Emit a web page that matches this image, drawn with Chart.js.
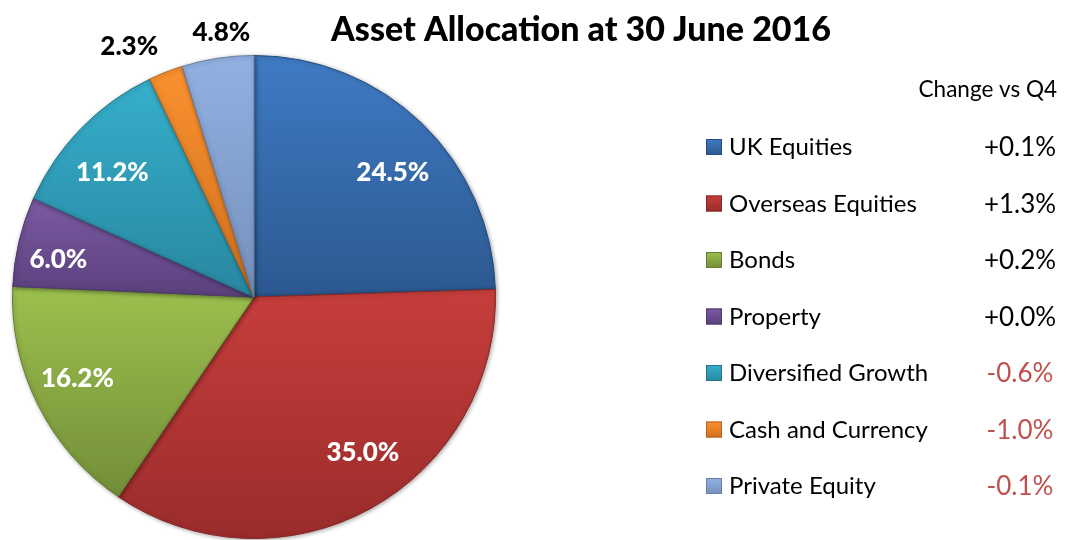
<!DOCTYPE html>
<html>
<head>
<meta charset="utf-8">
<title>Asset Allocation</title>
<script src="https://cdn.jsdelivr.net/npm/chart.js@4/dist/chart.umd.min.js"></script>
<style>
  html, body { margin: 0; padding: 0; background: #fff; }
  #wrap { width: 1068px; height: 540px; }
</style>
</head>
<body>
<div id="wrap"><canvas id="allocationChart" width="1068" height="540"></canvas></div>
<script>
// Allocation by asset class, and the change since Q4
const assetClasses = ['UK Equities', 'Overseas Equities', 'Bonds', 'Property', 'Diversified Growth', 'Cash and Currency', 'Private Equity'];
const allocationPct = [24.5, 35.0, 16.2, 6.0, 11.2, 2.3, 4.8];
const changeVsQ4 = [0.1, 1.3, 0.2, 0.0, -0.6, -1.0, -0.1];

const chartTitle = 'Asset Allocation at 30 June 2016';
const changeHeading = 'Change vs Q4';

// light (top) and dark (bottom) end of each slice's fill
const sliceTop = ['#3f7bc4', '#c63e3c', '#9cc04e', '#7b5aa3', '#36afcc', '#f9912f', '#92b1e2'];
const sliceBottom = ['#2c5890', '#9a2c2b', '#728e38', '#5a407c', '#28879f', '#d2701e', '#7590bb'];
const sliceEdge = ['#264d7e', '#872726', '#647d31', '#4e386c', '#23768b', '#b9631b', '#6680a6'];

// small pixel tweaks to the data label spots
const labelNudge = [[6, 13], [17, -12], [-6, -4], [-10, 7], [-5, 9], [-26, 1], [8, 3]];

const FONT = 'Lato, "Open Sans", sans-serif';
const total = allocationPct.reduce((a, b) => a + b, 0);

function fmtChange(v) {
    return (v < 0 ? '-' : '+') + Math.abs(v).toFixed(1) + '%';
}

// vertical gradient spanning one slice's own height
function sliceGradient(context) {
    const i = context.dataIndex;
    const chart = context.chart;
    const area = chart.chartArea;
    if (!area) return sliceTop[i];
    const cx = (area.left + area.right) / 2;
    const cy = (area.top + area.bottom) / 2;
    const r = Math.min(area.right - area.left, area.bottom - area.top) / 2;
    const before = allocationPct.slice(0, i).reduce((a, b) => a + b, 0);
    const a0 = -Math.PI / 2 + 2 * Math.PI * before / total;
    const a1 = a0 + 2 * Math.PI * allocationPct[i] / total;
    const ys = [cy, cy + r * Math.sin(a0), cy + r * Math.sin(a1)];
    [-Math.PI / 2, Math.PI / 2, 3 * Math.PI / 2].forEach(a => {
        if (a > a0 && a < a1) ys.push(cy + r * Math.sin(a));
    });
    const g = chart.ctx.createLinearGradient(0, Math.min(...ys), 0, Math.max(...ys));
    g.addColorStop(0, sliceTop[i]);
    g.addColorStop(1, sliceBottom[i]);
    return g;
}

const pieShadow = {
    id: 'pieShadow',
    beforeDatasetsDraw(chart) {
        const ctx = chart.ctx;
        ctx.save();
        ctx.shadowColor = 'rgba(0,0,0,0.35)';
        ctx.shadowBlur = 4;
        ctx.shadowOffsetX = 1;
        ctx.shadowOffsetY = 1;
    },
    afterDatasetsDraw(chart) {
        chart.ctx.restore();
    }
};

const sliceLabels = {
    id: 'sliceLabels',
    afterDatasetsDraw(chart) {
        const ctx = chart.ctx;
        const meta = chart.getDatasetMeta(0);
        ctx.save();
        ctx.font = '900 26px ' + FONT;
        ctx.textAlign = 'center';
        ctx.textBaseline = 'middle';
        meta.data.forEach((arc, i) => {
            const p = arc.getProps(['x', 'y', 'startAngle', 'endAngle', 'outerRadius'], true);
            const mid = (p.startAngle + p.endAngle) / 2;
            const outside = allocationPct[i] < 5;
            const f = outside ? 1.12 : 0.79;
            const lx = p.x + Math.cos(mid) * p.outerRadius * f + labelNudge[i][0];
            const ly = p.y + Math.sin(mid) * p.outerRadius * f + labelNudge[i][1];
            ctx.fillStyle = outside ? '#000' : '#fff';
            ctx.fillText(allocationPct[i].toFixed(1) + '%', lx, ly);
        });
        ctx.restore();
    }
};

// title plus the legend with its change column
const sideText = {
    id: 'sideText',
    afterDraw(chart) {
        const ctx = chart.ctx;
        ctx.save();
        ctx.fillStyle = '#000';
        ctx.textBaseline = 'alphabetic';
        ctx.font = '900 34px ' + FONT;
        ctx.textAlign = 'center';
        ctx.fillText(chartTitle, 581, 41);

        ctx.font = '22.5px ' + FONT;
        ctx.textAlign = 'right';
        ctx.fillText(changeHeading, 1057, 97);

        assetClasses.forEach((name, i) => {
            const base = 155 + i * 56.5;
            const g = ctx.createLinearGradient(0, base - 16, 0, base);
            g.addColorStop(0, sliceTop[i]);
            g.addColorStop(1, sliceBottom[i]);
            ctx.fillStyle = g;
            ctx.fillRect(706, base - 16, 16, 16);
            ctx.strokeStyle = sliceEdge[i];
            ctx.lineWidth = 1;
            ctx.strokeRect(706.5, base - 15.5, 15, 15);

            ctx.fillStyle = '#000';
            ctx.font = '24px ' + FONT;
            ctx.textAlign = 'left';
            ctx.fillText(name, 729, base);

            const v = changeVsQ4[i];
            ctx.fillStyle = v < 0 ? '#c0504d' : '#000';
            ctx.font = '26px ' + FONT;
            ctx.textAlign = 'center';
            ctx.fillText(fmtChange(v), 1020, base + 1);
        });
        ctx.restore();
    }
};

new Chart(document.getElementById('allocationChart'), {
    type: 'pie',
    data: {
        labels: assetClasses,
        datasets: [{
            data: allocationPct,
            backgroundColor: sliceGradient,
            borderColor: sliceEdge,
            borderWidth: 1
        }]
    },
    options: {
        responsive: false,
        animation: false,
        layout: {
            padding: { left: 11, top: 55, right: 571, bottom: 1 }
        },
        plugins: {
            legend: { display: false },
            tooltip: { enabled: false }
        }
    },
    plugins: [pieShadow, sliceLabels, sideText]
});
</script>
</body>
</html>
